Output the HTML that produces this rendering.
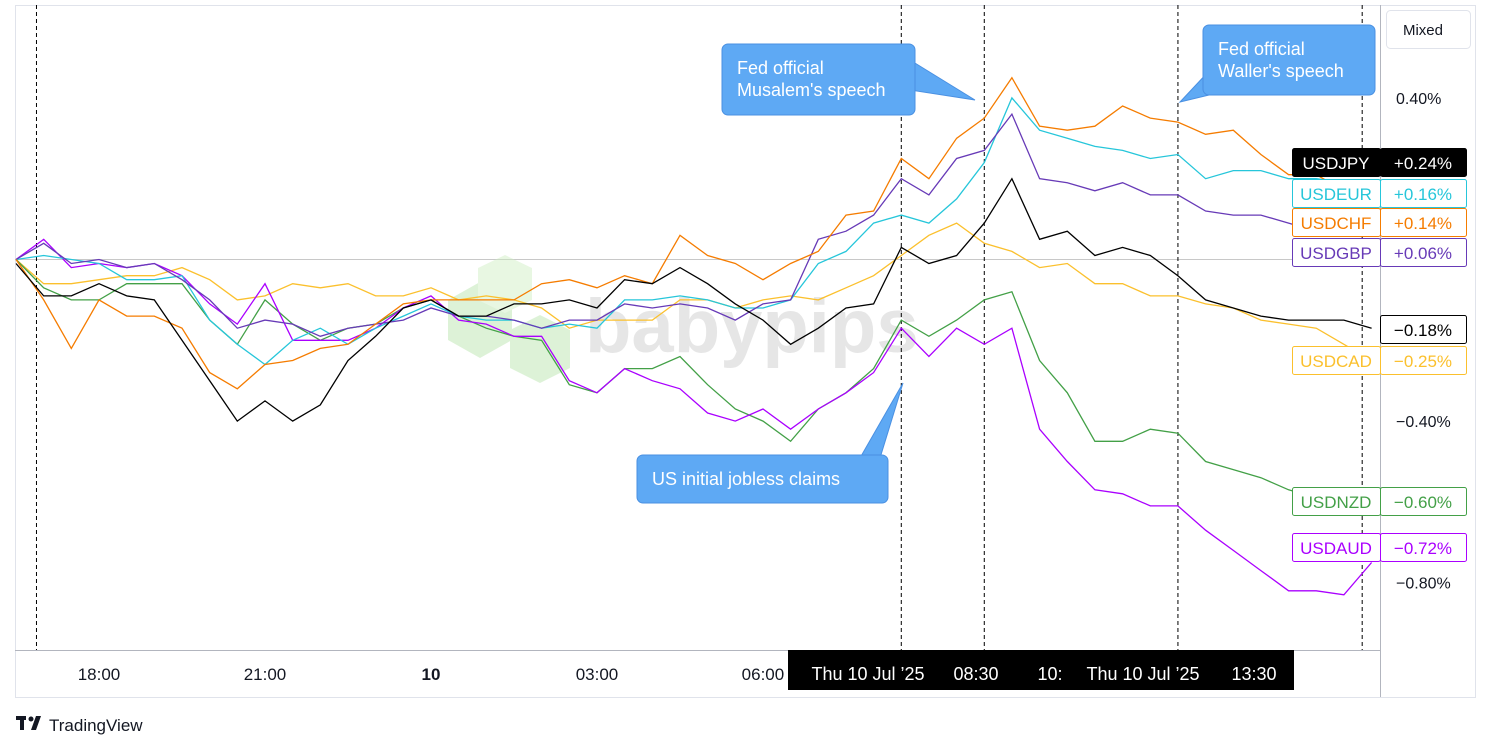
<!DOCTYPE html>
<html><head><meta charset="utf-8">
<style>
body{margin:0;background:#fff;font-family:"Liberation Sans",sans-serif;}
#wrap{position:relative;width:1491px;height:751px;overflow:hidden;background:#fff;}
svg text{font-family:"Liberation Sans",sans-serif;}
</style></head>
<body>
<div id="wrap">
<svg id="chart" width="1491" height="751"></svg>
</div>
<script>
const timeLabels=["18:00","21:00","10","03:00","06:00"];
const timeHours=[18,21,24,27,30];
const priceTicks=[0.40,-0.40,-0.80];
const eventHours=[16.87,32.5,34.0,37.5,40.83];
const startHour=16.5, stepHours=0.5;
const seriesNames=["USDJPY","USDEUR","USDCHF","USDGBP","USDCAD","USDNZD","USDAUD"];
const lastValues=["+0.24%","+0.16%","+0.14%","+0.06%","−0.18%","−0.25%","−0.60%","−0.72%"];
const jpy=[-0.01,-0.09,-0.09,-0.06,-0.09,-0.10,-0.20,-0.30,-0.40,-0.35,-0.40,-0.36,-0.25,-0.19,-0.12,-0.10,-0.14,-0.14,-0.11,-0.11,-0.10,-0.12,-0.05,-0.06,-0.02,-0.06,-0.11,-0.15,-0.21,-0.17,-0.12,-0.11,0.03,-0.01,0.01,0.09,0.20,0.05,0.07,0.01,0.03,0.01,-0.04,-0.10,-0.12,-0.14,-0.15,-0.15,-0.15,-0.17];
const chf=[0,-0.10,-0.22,-0.10,-0.14,-0.14,-0.17,-0.28,-0.32,-0.26,-0.25,-0.22,-0.21,-0.16,-0.11,-0.10,-0.10,-0.10,-0.10,-0.06,-0.05,-0.07,-0.04,-0.06,0.06,0.01,-0.01,-0.05,-0.01,0.02,0.11,0.12,0.25,0.20,0.30,0.35,0.45,0.33,0.32,0.33,0.38,0.35,0.34,0.31,0.32,0.26,0.21,0.21,0.17,0.16];
const eur=[0,0.01,0,-0.01,-0.05,-0.05,-0.04,-0.15,-0.21,-0.26,-0.20,-0.17,-0.21,-0.17,-0.14,-0.11,-0.14,-0.15,-0.15,-0.17,-0.16,-0.17,-0.10,-0.10,-0.09,-0.10,-0.12,-0.12,-0.10,-0.01,0.02,0.09,0.11,0.09,0.15,0.24,0.40,0.32,0.30,0.28,0.27,0.25,0.26,0.20,0.22,0.22,0.20,0.20,0.19,0.17];
const gbp=[0,0.04,-0.01,0,-0.02,-0.01,-0.05,-0.10,-0.17,-0.15,-0.16,-0.19,-0.17,-0.16,-0.15,-0.12,-0.14,-0.14,-0.15,-0.17,-0.15,-0.15,-0.11,-0.12,-0.11,-0.12,-0.15,-0.11,-0.10,0.05,0.07,0.11,0.20,0.16,0.25,0.27,0.36,0.20,0.19,0.17,0.19,0.16,0.16,0.12,0.11,0.11,0.09,0.07,0.06,0.06];
const cad=[0,-0.06,-0.06,-0.05,-0.04,-0.04,-0.02,-0.05,-0.10,-0.09,-0.06,-0.07,-0.06,-0.09,-0.09,-0.07,-0.10,-0.09,-0.10,-0.12,-0.17,-0.15,-0.15,-0.15,-0.10,-0.10,-0.12,-0.10,-0.09,-0.10,-0.07,-0.04,0.01,0.06,0.09,0.04,0.02,-0.02,-0.01,-0.06,-0.06,-0.09,-0.09,-0.11,-0.12,-0.15,-0.16,-0.17,-0.21,-0.25];
const nzd=[0,-0.07,-0.10,-0.10,-0.06,-0.06,-0.06,-0.15,-0.21,-0.10,-0.16,-0.20,-0.17,-0.16,-0.12,-0.10,-0.14,-0.17,-0.19,-0.20,-0.31,-0.33,-0.27,-0.27,-0.24,-0.31,-0.37,-0.40,-0.45,-0.37,-0.33,-0.27,-0.15,-0.19,-0.15,-0.10,-0.08,-0.25,-0.33,-0.45,-0.45,-0.42,-0.43,-0.50,-0.52,-0.54,-0.57,-0.59,-0.62,-0.60];
const aud=[0,0.05,-0.02,-0.01,-0.02,-0.01,-0.04,-0.11,-0.16,-0.06,-0.20,-0.20,-0.20,-0.17,-0.12,-0.09,-0.15,-0.16,-0.19,-0.19,-0.30,-0.33,-0.27,-0.30,-0.32,-0.38,-0.40,-0.37,-0.42,-0.37,-0.33,-0.28,-0.17,-0.24,-0.17,-0.21,-0.17,-0.42,-0.50,-0.57,-0.58,-0.61,-0.61,-0.67,-0.72,-0.77,-0.82,-0.82,-0.83,-0.75];

const NS="http://www.w3.org/2000/svg";
const svg=document.getElementById('chart');
const xOf=h=>99+(h-18)*55.33;
const yOf=v=>259.5-v*404;
function el(tag,attrs,parent){const e=document.createElementNS(NS,tag);for(const k in attrs)e.setAttribute(k,attrs[k]);(parent||svg).appendChild(e);return e;}

// frame
let f=el('rect',{x:15.5,y:5.5,width:1460,height:692,fill:'none',stroke:'#e0e3eb'});


let ax=el('line',{x1:15,x2:1380,y1:650.5,y2:650.5,stroke:'#b2b5be'});


let ay=el('line',{x1:1380.5,x2:1380.5,y1:5,y2:697,stroke:'#b2b5be'});


let zl=el('line',{x1:15,x2:1380,y1:yOf(0),y2:yOf(0),stroke:'#c8c8c8'});



// watermark
const wm=el('g',{opacity:0.45});


el('polygon',{points:'448,300 480,282 512,300 512,340 480,358 448,340',fill:'#b6e3a8'},wm);
el('polygon',{points:'478,268 505,255 532,268 532,300 505,313 478,300',fill:'#cdeec1'},wm);
el('polygon',{points:'510,330 540,315 570,330 570,368 540,383 510,368',fill:'#b6e3a8'},wm);
const wt=el('text',{x:585,y:352,'font-size':76,'font-weight':'bold',fill:'#c9c9c9'},wm);wt.textContent='babypips';

// event lines
eventHours.forEach((h,i)=>{const l=el('line',{x1:xOf(h),x2:xOf(h),y1:5,y2:650,stroke:'#000','stroke-dasharray':'4,3','stroke-width':1});

});

// series
const colors=['#000000','#26c6da','#f57c00','#673ab7','#fbc02d','#43a047','#aa00ff'];
const data=[jpy,eur,chf,gbp,cad,nzd,aud];
const order=[4,5,6,1,3,2,0];
order.forEach(si=>{const d=data[si].map((v,i)=>(i?'L':'M')+xOf(startHour+i*stepHours).toFixed(1)+','+yOf(v).toFixed(1)).join('');
const p=el('path',{d:d,fill:'none',stroke:colors[si],'stroke-width':1.3});

});

// y ticks
priceTicks.forEach(v=>{const t=el('text',{x:1396,y:yOf(v)+6,'font-size':16,fill:'#131722'});t.textContent=(v>0?'':'−')+Math.abs(v).toFixed(2)+'%';

});

// x ticks
timeLabels.forEach((s,i)=>{const t=el('text',{x:xOf(timeHours[i]),y:680,'font-size':17,fill:'#131722','text-anchor':'middle','font-weight':s==='10'?'bold':'normal'});t.textContent=s;

});
// crosshair labels
const xb=el('rect',{x:788,y:650,width:506,height:40,fill:'#000'});


[['Thu 10 Jul \u201925',868],['08:30',976],['10:',1050],['Thu 10 Jul \u201925',1143],['13:30',1254]].forEach(a=>{const t=el('text',{x:a[1],y:680,'font-size':18,fill:'#fff','text-anchor':'middle'});t.textContent=a[0];

});

// legend labels
const legY=[163,194,223,253,330,361,502,548];
const legName=["USDJPY","USDEUR","USDCHF","USDGBP","","USDCAD","USDNZD","USDAUD"];
const legCol=['#000','#26c6da','#f57c00','#673ab7','#000','#fbc02d','#43a047','#aa00ff'];
legY.forEach((y,i)=>{const g=el('g',{});


const solid=i===0;
if(legName[i]){el('rect',{x:1292.5,y:y-14.5,width:88,height:28,rx:2,fill:solid?'#000':'#fff',stroke:legCol[i]},g);
const n=el('text',{x:1336,y:y+6,'font-size':17,fill:solid?'#fff':legCol[i],'text-anchor':'middle'},g);n.textContent=legName[i];}
el('rect',{x:1380.5,y:y-14.5,width:86,height:28,rx:2,fill:solid?'#000':'#fff',stroke:legCol[i]},g);
const v=el('text',{x:1423,y:y+6,'font-size':17,fill:solid?'#fff':legCol[i],'text-anchor':'middle'},g);v.textContent=lastValues[i];});

// callouts
function callout(name,x,y,w,h,pts,lines){const g=el('g',{});


el('polygon',{points:pts,fill:'#5ea9f4',stroke:'#4a90e2'},g);
el('rect',{x:x,y:y,width:w,height:h,rx:6,fill:'#5ea9f4',stroke:'#4a90e2'},g);
lines.forEach((s,i)=>{const t=el('text',{x:x+15,y:y+30+i*22,'font-size':18,fill:'#fff'},g);t.textContent=s;});}
callout('musalem-speech-callout',722,44,193,71,'910,60 975,100 910,90',["Fed official","Musalem's speech"]);
callout('waller-speech-callout',1203,25,172,70,'1210,70 1180,102 1230,90',["Fed official","Waller's speech"]);
callout('jobless-claims-callout',637,455,251,48,'860,458 903,383 880,458',["US initial jobless claims"]);

// mixed button
const mb=el('rect',{x:1386.5,y:10.5,width:84,height:38,rx:4,fill:'#fff',stroke:'#e0e3eb'});


const mt=el('text',{x:1423,y:35,'font-size':15,fill:'#131722','text-anchor':'middle'});mt.textContent='Mixed';



// logo
const lg=el('g',{});


el('rect',{x:16,y:716,width:10,height:4,fill:'#131722'},lg);
el('rect',{x:20,y:716,width:4,height:14,fill:'#131722'},lg);
el('circle',{cx:31,cy:719,r:2.5,fill:'#131722'},lg);
el('polygon',{points:'36,716 41,716 36,730 31,730',fill:'#131722'},lg);
const lt=el('text',{x:49,y:731,'font-size':17,fill:'#131722'},lg);lt.textContent='TradingView';
</script>
</body></html>
